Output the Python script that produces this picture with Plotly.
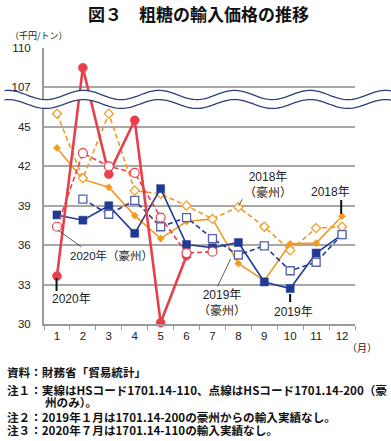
import math
import plotly.graph_objects as go

# ---------------- data ----------------
months = [str(m) for m in range(1, 13)]
imp_2018 = [43.4, 41.0, 40.4, 38.25, 36.5, 37.8, 38.0, 34.6, 33.3, 36.1, 36.15, 38.2]
aus_2018 = [46.0, 41.1, 46.0, 40.15, 39.9, 39.0, 38.0, 38.9, 37.4, 35.6, 37.3, 37.4]
imp_2019 = [38.3, 37.9, 39.0, 36.9, 40.3, 36.05, 35.8, 36.2, 33.2, 32.7, 35.4, 36.8]
aus_2019 = [None, 39.5, 38.35, 39.4, 37.4, 38.1, 36.5, 35.25, 35.95, 34.05, 34.7, 36.8]
imp_2020 = [33.65, 108.5, 41.4, 45.5, 30.1, 35.2, None, None, None, None, None, None]
aus_2020 = [37.4, 43.0, 42.0, 41.5, 38.1, 35.4, 35.5, None, None, None, None, None]

y_ticks_low = [30, 33, 36, 39, 42, 45]
y_ticks_high = [107, 110]

# ---------------- broken axis transform ----------------
DISP_107 = 48.0            # where 107 sits on the continuous display axis
SHIFT = 107 - DISP_107


def disp(v):
    if v is None:
        return None
    return v - SHIFT if v >= 100 else v


# ---------------- geometry helpers ----------------
W, H = 391, 441
L, R, T, B = 40, 36, 48, 117
PW, PH = W - L - R, H - T - B


def px(x):
    return (x - L) / PW


def py(y):
    return (T + PH - y) / PH


RED = "#e8404a"
ORANGE = "#f29a1f"
NAVY = "#213a94"
NAVY_OPEN = "#5563ab"
FONT = "Liberation Sans, Noto Sans CJK JP, sans-serif"
JFONT = "Noto Sans CJK JP, sans-serif"

fig = go.Figure()


def add(vals, color, dash, width, symbol, size, fill, edge, ew):
    fig.add_trace(go.Scatter(
        x=months, y=[disp(v) for v in vals], mode="lines+markers",
        line=dict(color=color, width=width, dash=dash),
        marker=dict(symbol=symbol, size=size, color=fill, line=dict(color=edge, width=ew)),
        connectgaps=False, cliponaxis=False, hoverinfo="skip", showlegend=False))


add(imp_2018, ORANGE, "solid", 1.6, "diamond", 5.5, ORANGE, ORANGE, 0.5)
add(aus_2018, ORANGE, "5px,3px", 1.6, "diamond", 7, "white", ORANGE, 1.2)
add(imp_2019, NAVY, "solid", 1.6, "square", 8, NAVY, NAVY, 0.5)
add(aus_2019, NAVY, "5px,3px", 1.6, "square", 8, "white", NAVY_OPEN, 1.3)
add(imp_2020, RED, "solid", 2.6, "circle", 9, RED, RED, 0.5)
add(aus_2020, RED, "5px,3px", 1.6, "circle", 9, "white", RED, 1.2)

# ---------------- wave (axis break) ----------------
def wave(center, amp, xs):
    return [(x, center - amp * math.cos(2 * math.pi * (x - 80) / 76.5)) for x in xs]

xs = [i * 2 for i in range(0, 197)]
up = wave(95, 4.6, xs)
lo = wave(104, 4.4, xs)

fill_path = "M " + " L ".join(f"{px(x):.4f},{py(y):.4f}" for x, y in up)
fill_path += " L " + " L ".join(f"{px(x):.4f},{py(y):.4f}" for x, y in reversed(lo)) + " Z"
shapes = [dict(type="path", xref="paper", yref="paper", path=fill_path,
               fillcolor="white", line=dict(width=0), layer="above")]
for pts in (up, lo):
    p = "M " + " L ".join(f"{px(x):.4f},{py(y):.4f}" for x, y in pts)
    shapes.append(dict(type="path", xref="paper", yref="paper", path=p,
                       line=dict(color="#2b3f78", width=1.3), layer="above"))

# leader lines
def seg(x0, y0, x1, y1, color, w):
    shapes.append(dict(type="line", xref="paper", yref="paper",
                       x0=px(x0), y0=py(y0), x1=px(x1), y1=py(y1),
                       line=dict(color=color, width=w), layer="above"))

seg(248, 187, 237, 206, "#333333", 0.8)      # 2018 豪州
seg(341, 200, 341, 214, "#111111", 2)        # 2018
seg(229, 259, 215, 288, "#333333", 0.8)      # 2019 豪州
seg(289.3, 294, 289.3, 302, "#111111", 2)    # 2019
seg(54, 230, 78, 247, "#333333", 0.8)        # 2020 豪州
seg(52.7, 278, 52.7, 291, "#111111", 2)      # 2020

# ---------------- annotations ----------------
ann = []


def label(text, x, y, size=12, bg=None, xanchor="center", fam=FONT, color="#222222", bold=False):
    d = dict(text=text, xref="paper", yref="paper", x=px(x), y=py(y),
             xanchor=xanchor, yanchor="middle", showarrow=False,
             font=dict(family=fam, size=size, color=color, weight="bold" if bold else "normal"))
    if bg:
        d.update(bgcolor=bg, borderpad=1)
    ann.append(d)


label("図３　粗糖の輸入価格の推移", 196, 14, size=17, fam=JFONT, bold=True, color="#111111")
label("（千円/トン）", 35, 35, size=9, fam=JFONT)
label("（月）", 362, 347, size=10, fam=JFONT)

label("2018年<br>（豪州）", 267, 184.5, size=12, bg="white")
label("2018年", 330, 191.5, size=12)
label("2019年<br>（豪州）", 220, 303, size=12, bg="white")
label("2019年", 292.5, 311.5, size=12)
label("2020年（豪州）", 108, 255, size=11.5)
label("2020年", 68, 299, size=12)

NOTE = 11.6
NC = "#111111"
label("資料：財務省「貿易統計」", 0, 372, size=NOTE, xanchor="left", fam=JFONT, bold=True, color=NC)
label("注１：実線はHSコード1701.14-110、点線はHSコード1701.14-200（豪", 0, 389.5, size=NOTE,
      xanchor="left", fam=JFONT, bold=True, color=NC)
label("州のみ）。", 39, 402, size=NOTE, xanchor="left", fam=JFONT, bold=True, color=NC)
label("注２：2019年１月は1701.14-200の豪州からの輸入実績なし。", 0, 416.5, size=NOTE,
      xanchor="left", fam=JFONT, bold=True, color=NC)
label("注３：2020年７月は1701.14-110の輸入実績なし。", 0, 429.5, size=NOTE,
      xanchor="left", fam=JFONT, bold=True, color=NC)

tickvals = [disp(v) for v in y_ticks_low + y_ticks_high]
ticktext = [str(v) for v in y_ticks_low + y_ticks_high]

fig.update_layout(
    width=W, height=H,
    margin=dict(l=L, r=R, t=T, b=B),
    paper_bgcolor="white", plot_bgcolor="white",
    font=dict(family=FONT, size=11, color="#222222"),
    shapes=shapes, annotations=ann,
    xaxis=dict(type="category", categoryorder="array", categoryarray=months,
               range=[-0.5, 11.5], tickson="boundaries", ticks="outside", ticklen=4,
               tickcolor="#999999", tickwidth=1.2, showline=True, linecolor="#9a9a9a",
               linewidth=2, showgrid=False, tickfont=dict(size=11.5, color="#222222"),
               fixedrange=True),
    yaxis=dict(range=[30, disp(110)], tickvals=tickvals, ticktext=ticktext,
               showgrid=True, gridcolor="#a8a8a8", gridwidth=1.5, zeroline=False,
               showline=True, linecolor="#9a9a9a", linewidth=2, ticks="",
               ticklabelstandoff=9, tickfont=dict(size=11.5, color="#222222"),
               fixedrange=True),
)

fig.write_html("out.html", config={"displayModeBar": False},
               post_script="document.body.style.margin='0';")
